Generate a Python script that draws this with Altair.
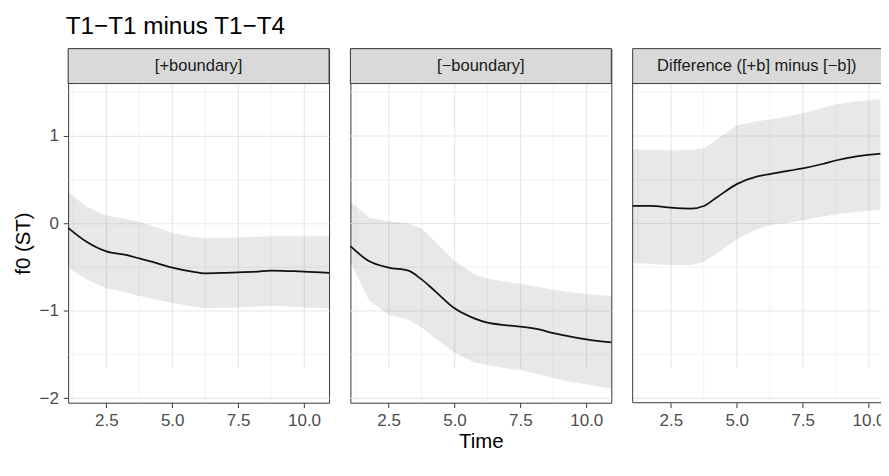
import altair as alt
import pandas as pd

# ---- data ----
time = [1.05, 1.75, 2.5, 3.25, 3.75, 4.25, 5.0, 5.75, 6.25, 7.0, 7.5, 8.25, 8.75, 9.5, 10.0, 10.95]

plus_fit = [-0.05, -0.21, -0.32, -0.36, -0.40, -0.44, -0.505, -0.55, -0.57, -0.565, -0.56, -0.55, -0.54, -0.545, -0.55, -0.565]
plus_hi = [0.36, 0.19, 0.09, 0.05, 0.02, -0.03, -0.11, -0.15, -0.17, -0.165, -0.16, -0.15, -0.145, -0.145, -0.145, -0.145]
plus_lo = [-0.50, -0.64, -0.74, -0.79, -0.83, -0.86, -0.91, -0.95, -0.97, -0.965, -0.96, -0.95, -0.94, -0.95, -0.96, -0.97]

minus_fit = [-0.26, -0.43, -0.505, -0.54, -0.64, -0.77, -0.97, -1.085, -1.135, -1.165, -1.18, -1.215, -1.255, -1.30, -1.325, -1.36]
minus_hi = [0.25, 0.07, 0.025, 0.0, -0.06, -0.20, -0.43, -0.58, -0.63, -0.67, -0.69, -0.73, -0.76, -0.79, -0.81, -0.83]
minus_lo = [-0.43, -0.88, -1.045, -1.10, -1.19, -1.31, -1.48, -1.59, -1.62, -1.66, -1.675, -1.73, -1.77, -1.815, -1.84, -1.89]

# the difference panel is cut off at the right edge of the picture (t ~ 10.5)
time_diff = [1.05, 1.75, 2.5, 3.25, 3.75, 4.25, 5.0, 5.75, 6.25, 7.0, 7.5, 8.25, 8.75, 9.5, 10.0, 10.45]
diff_fit = [0.20, 0.20, 0.18, 0.17, 0.20, 0.30, 0.45, 0.535, 0.565, 0.605, 0.63, 0.68, 0.72, 0.765, 0.785, 0.80]
diff_hi = [0.85, 0.84, 0.835, 0.84, 0.86, 0.96, 1.12, 1.17, 1.19, 1.23, 1.26, 1.32, 1.36, 1.395, 1.41, 1.42]
diff_lo = [-0.45, -0.465, -0.475, -0.475, -0.44, -0.34, -0.18, -0.07, -0.02, 0.01, 0.035, 0.08, 0.105, 0.13, 0.145, 0.16]

panel_labels = ["[+boundary]", "[\u2212boundary]", "Difference ([+b] minus [\u2212b])"]
x_major = [2.5, 5.0, 7.5, 10.0]
x_minor = [1.25, 3.75, 6.25, 8.75]
y_major = [-2, -1, 0, 1]
y_minor = [-1.5, -0.5, 0.5, 1.5]

FONT = "Liberation Sans"
STRIP_H = 36
PLOT_H = 329
H = STRIP_H + PLOT_H
Y_DOMAIN = [-2.05, 1.6]
GRID = "#e8e8e8"
BORDER = "#333333"


def panel(t, fit, lo, hi, label, width, xdomain, first=False, xtitle=None, cut=False):
    df = pd.DataFrame({"t": t, "fit": fit, "lo": lo, "hi": hi})
    strip_df = pd.DataFrame({"label": [label]})
    xmin_df = pd.DataFrame({"v": x_minor})
    ymin_df = pd.DataFrame({"v": y_minor})
    ymaj_df = pd.DataFrame({"v": y_major})

    xscale = alt.Scale(domain=xdomain, nice=False, zero=False)
    yscale = alt.Scale(domain=Y_DOMAIN, nice=False, zero=False, range=[H, STRIP_H])

    if xtitle:
        xaxis = alt.Axis(values=x_major, format=".1f", title=xtitle)
    else:
        xaxis = alt.Axis(values=x_major, format=".1f", title=None)

    def X(field):
        return alt.X(field, scale=xscale, axis=xaxis)

    if first:
        yaxis = alt.Axis(values=y_major, format="d", title="f0 (ST)",
                         titleY=STRIP_H + PLOT_H / 2)

        def Y(field):
            return alt.Y(field, scale=yscale, axis=yaxis)
    else:
        def Y(field):
            return alt.Y(field, scale=yscale, axis=None)

    xgrid = alt.Chart(xmin_df).mark_rule(color=GRID, strokeWidth=0.6).encode(
        x=X("v:Q"), y=alt.value(STRIP_H), y2=alt.value(H)
    )
    ygrid = alt.Chart(ymin_df).mark_rule(color=GRID, strokeWidth=0.6).encode(
        y=Y("v:Q"), x=alt.value(0), x2=alt.value(width)
    )
    layers = [xgrid, ygrid]
    if not first:
        ygrid_major = alt.Chart(ymaj_df).mark_rule(color=GRID, strokeWidth=1.2).encode(
            y=Y("v:Q"), x=alt.value(0), x2=alt.value(width)
        )
        layers.append(ygrid_major)

    base = alt.Chart(df)
    band = base.mark_area(color="#000000", opacity=0.09).encode(
        x=X("t:Q"), y=Y("lo:Q"), y2="hi:Q"
    )
    line = base.mark_line(color="#111111", strokeWidth=1.8, interpolate="monotone").encode(
        x=X("t:Q"), y=Y("fit:Q")
    )
    if cut:
        strip = alt.Chart(strip_df).mark_rect(fill="#d9d9d9", strokeWidth=0).encode(
            x=alt.value(0), x2=alt.value(width), y=alt.value(0), y2=alt.value(STRIP_H)
        )
    else:
        strip = alt.Chart(strip_df).mark_rect(fill="#d9d9d9", stroke=BORDER, strokeWidth=1).encode(
            x=alt.value(0), x2=alt.value(width), y=alt.value(0), y2=alt.value(STRIP_H)
        )
    strip_text = alt.Chart(strip_df).mark_text(
        font=FONT, fontSize=17, color="#1a1a1a", baseline="middle", align="center"
    ).encode(x=alt.value(width / 2), y=alt.value(STRIP_H / 2 + 0.5), text="label:N")

    layers += [band, line, strip, strip_text]
    props = dict(width=width, height=H)
    if cut:
        def hrule(ypx):
            return alt.Chart(strip_df).mark_rule(color=BORDER, strokeWidth=1).encode(
                x=alt.value(0), x2=alt.value(width), y=alt.value(ypx)
            )
        left_border = alt.Chart(strip_df).mark_rule(color=BORDER, strokeWidth=1).encode(
            x=alt.value(0), y=alt.value(0), y2=alt.value(H)
        )
        layers += [left_border, hrule(0), hrule(STRIP_H), hrule(H)]
        props["view"] = alt.ViewBackground(stroke="transparent")
    return alt.layer(*layers).properties(**props)


p1 = panel(time, plus_fit, plus_lo, plus_hi, panel_labels[0], 269, [1.05, 10.95], first=True)
p2 = panel(time, minus_fit, minus_lo, minus_hi, panel_labels[1], 269, [1.05, 10.95], xtitle="Time")
p3 = panel(time_diff, diff_fit, diff_lo, diff_hi, panel_labels[2], 256, [1.05, 10.472], cut=True)

chart = (
    alt.hconcat(p1, p2, p3, spacing=12)
    .properties(
        title=alt.TitleParams(
            text="T1\u2212T1 minus T1\u2212T4",
            anchor="start",
            font=FONT,
            fontSize=25,
            fontWeight="normal",
            color="#000000",
            dx=55,
            offset=9,
        ),
        padding={"left": 4, "top": 0, "right": -5, "bottom": -4},
    )
    .configure(font=FONT)
    .configure_concat(spacing=12)
    .configure_view(stroke=BORDER, strokeWidth=1)
    .configure_axis(
        grid=True,
        gridColor=GRID,
        gridWidth=1.2,
        domain=False,
        tickColor=BORDER,
        tickSize=5,
        tickWidth=1,
        labelFont=FONT,
        labelFontSize=17.5,
        labelColor="#4d4d4d",
        titleFont=FONT,
        titleFontSize=21,
        titleFontWeight="normal",
        titleColor="#000000",
    )
    .configure_axisX(labelPadding=4, titlePadding=3)
    .configure_axisY(labelPadding=5, titlePadding=6)
)

chart.save("out.html", embed_options={"renderer": "svg", "actions": False})
